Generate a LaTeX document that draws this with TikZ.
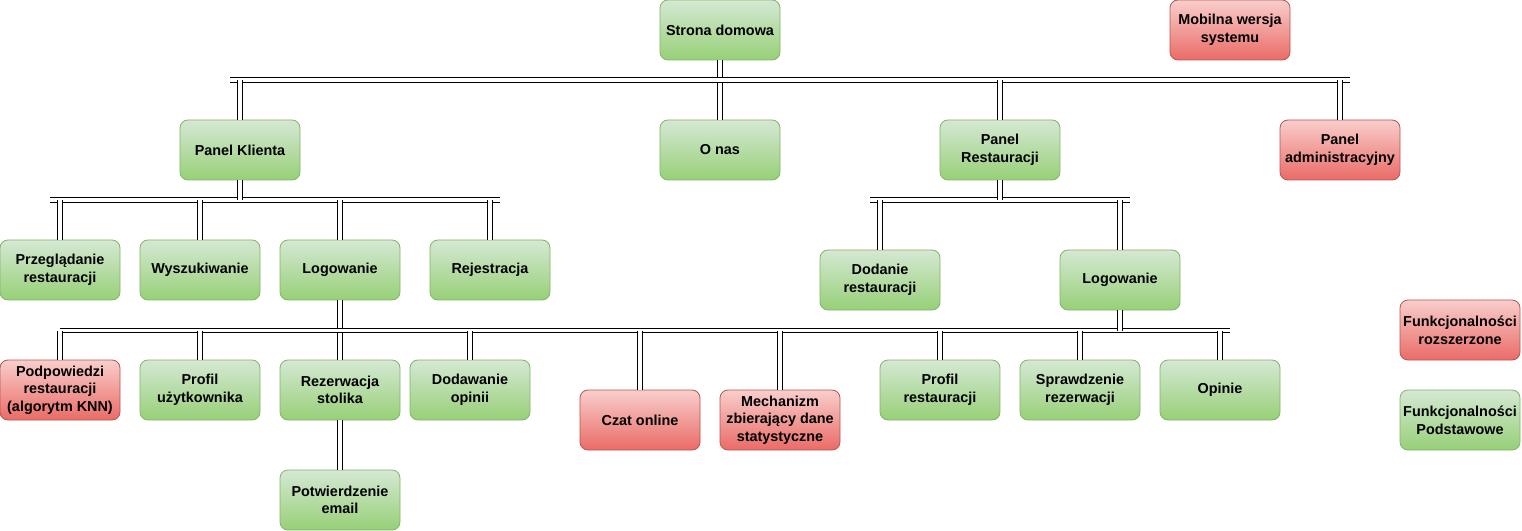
\documentclass[tikz,border=0pt]{standalone}
\usepackage{fontspec}
\setmainfont{Liberation Sans}
\usetikzlibrary{calc}
\definecolor{leaftop}{HTML}{D5E8D4}
\definecolor{leafbot}{HTML}{97D077}
\definecolor{leafline}{HTML}{82B366}
\definecolor{rosetop}{HTML}{F8CECC}
\definecolor{rosebot}{HTML}{EA6B66}
\definecolor{roseline}{HTML}{B85450}

\begin{document}
\begin{tikzpicture}[x=0.75pt,y=-0.75pt,
    fbox/.style={rounded corners=6pt,minimum width=90pt,minimum height=45pt,inner sep=0.5pt,
      align=center,font=\fontsize{10.8}{13.2}\selectfont\bfseries,line width=0.6pt},
    basic/.style={fbox,draw=leafline,top color=leaftop,bottom color=leafbot},
    ext/.style={fbox,draw=roseline,top color=rosetop,bottom color=rosebot},
    link/.style={double,double distance=2.4pt,line width=0.75pt}]
  \useasboundingbox (0,0) rectangle (1522,531);

  % boxes
  \foreach \n/\x/\y/\s/\t in {
      home/720/30/basic/Strona domowa,
      mobile/1230/30/ext/{Mobilna wersja\\systemu},
      client/240/150/basic/Panel Klienta,
      about/720/150/basic/O nas,
      rest/1000/150/basic/{Panel\\Restauracji},
      admin/1340/150/ext/{Panel\\administracyjny},
      browse/60/270/basic/{Przeglądanie\\restauracji},
      search/200/270/basic/Wyszukiwanie,
      login/340/270/basic/Logowanie,
      signup/490/270/basic/Rejestracja,
      addrest/880/280/basic/{Dodanie\\restauracji},
      rlogin/1120/280/basic/Logowanie,
      hints/60/390/ext/{Podpowiedzi\\restauracji\\(algorytm KNN)},
      profile/200/390/basic/{Profil\\użytkownika},
      booking/340/390/basic/{Rezerwacja\\stolika},
      review/470/390/basic/{Dodawanie\\opinii},
      chat/640/420/ext/Czat online,
      stats/780/420/ext/{Mechanizm\\zbierający dane\\statystyczne},
      rprofile/940/390/basic/{Profil\\restauracji},
      check/1080/390/basic/{Sprawdzenie\\rezerwacji},
      opinions/1220/390/basic/Opinie,
      confirm/340/500/basic/{Potwierdzenie\\email},
      legext/1460/330/ext/{Funkcjonalności\\rozszerzone},
      legbase/1460/420/basic/{Funkcjonalności\\Podstawowe}}
  {
    \node[\s] (\n) at (\x,\y) {\t};
  }

  % bus ends
  \coordinate (bus1w) at (230,80);   \coordinate (bus1e) at (1350,80);
  \coordinate (bus2w) at (50,200);   \coordinate (bus2e) at (500,200);
  \coordinate (bus3w) at (870,200);  \coordinate (bus3e) at (1130,200);
  \coordinate (bus4w) at (60,330.5); \coordinate (bus4e) at (1230,330.5);

  % through links
  \draw[link] (home.south) -- (about.north);
  \draw[link] (login.south) -- (booking.north);

  % buses
  \foreach \w/\e in {bus1w/bus1e,bus2w/bus2e,bus3w/bus3e,bus4w/bus4e}
    \draw[link] (\w) -- (\e);

  % stubs
  \foreach \n in {client,rest,admin}
    \draw[link] (\n.north) -- (\n.north |- bus1w);
  \draw[link] (client.south) -- (client.south |- bus2w);
  \foreach \n in {browse,search,login,signup}
    \draw[link] (\n.north) -- (\n.north |- bus2w);
  \draw[link] (rest.south) -- (rest.south |- bus3w);
  \foreach \n in {addrest,rlogin}
    \draw[link] (\n.north) -- (\n.north |- bus3w);
  \draw[link] (rlogin.south) -- (rlogin.south |- bus4w);
  \foreach \n in {hints,profile,review,chat,stats,rprofile,check,opinions}
    \draw[link] (\n.north) -- (\n.north |- bus4w);
  \draw[link] (booking.south) -- (confirm.north);
\end{tikzpicture}
\end{document}
